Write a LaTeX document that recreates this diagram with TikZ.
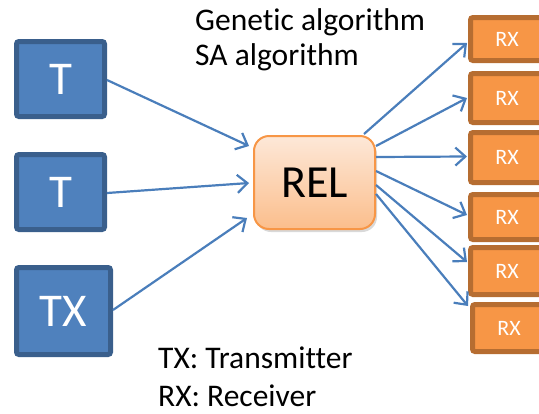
\documentclass[tikz,border=0pt]{standalone}
\usepackage{fontspec}
\setmainfont{Carlito}[Ligatures=NoCommon]
\usetikzlibrary{arrows.meta,calc,shadows}
\definecolor{tfill}{HTML}{4F81BD}
\definecolor{tborder}{HTML}{3A5F8C}
\definecolor{rxfill}{HTML}{F79646}
\definecolor{rxborder}{HTML}{B66D31}
\definecolor{relborder}{HTML}{F79646}
\definecolor{reltop}{HTML}{FDE8D8}
\definecolor{relbot}{HTML}{FBBE8C}
\definecolor{arr}{HTML}{4A7EBB}
\tikzset{
  tbox/.style={draw=tborder, fill=tfill, line width=5pt, rounded corners=2.5pt, text=white,
    font=\fontsize{47}{47}\selectfont, inner sep=0pt},
  rxbox/.style={draw=rxborder, fill=rxfill, line width=5pt, rounded corners=2.5pt, text=white,
    font=\fontsize{22}{22}\selectfont, inner sep=0pt, minimum width=73pt},
  relbox/.style={draw=relborder, line width=2pt, rounded corners=15pt, top color=reltop, bottom color=relbot,
    font=\fontsize{46}{46}\selectfont, inner sep=0pt, minimum width=121pt, minimum height=93pt,
    drop shadow={shadow xshift=2pt, shadow yshift=-3pt, opacity=0.25, fill=black!60}},
  conn/.style={draw=arr, line width=2.2pt, -{Straight Barb[length=10pt,width=18pt,line width=2.2pt]}},
  lbl/.style={font=\fontsize{31.5}{31.5}\selectfont, anchor=base west, inner sep=0pt}
}
\begin{document}
\begin{tikzpicture}[x=1pt,y=-1pt]
\useasboundingbox[clip] (0,0) rectangle (539,413);
\node[tbox, minimum width=88pt, minimum height=75pt] (t1) at (60.5,79) {T};
\node[tbox, minimum width=88pt, minimum height=75pt] (t2) at (60.5,192) {T};
\node[tbox, minimum width=94pt, minimum height=87pt] (tx) at (63.5,311) {TX};
\node[relbox] (rel) at (314.5,182.5) {REL};
\node[rxbox, minimum height=43pt] (rx1) at (507,39) {RX};
\node[rxbox, minimum height=49pt] (rx2) at (507,98) {RX};
\node[rxbox, minimum height=50pt] (rx3) at (507,157.5) {RX};
\node[rxbox, minimum height=45pt] (rx4) at (507,217) {RX};
\node[rxbox, minimum height=47pt] (rx5) at (507,271) {RX};
\node[rxbox, minimum height=47pt] (rx6) at (509,328) {RX};
\node[lbl] (g1) at (195,30) {Genetic algorithm};
\node[lbl] (g2) at (195,65) {SA algorithm};
\node[lbl] (k1) at (158,368) {TX: Transmitter};
\node[lbl] (k2) at (158,406) {RX: Receiver};
\draw[conn] ($(t1.east)+(0,1)$) -- ($(rel.north west)+(-4,11)$);
\draw[conn] ($(t2.east)+(0,1)$) -- ($(rel.north west)+(-4,48)$);
\draw[conn] ($(tx.east)+(0,-1)$) -- ($(rel.north west)+(-6,83)$);
\draw[conn] ($(rel.north east)+(-12,-1)$) -- ($(rx1.west)+(-1,4)$);
\draw[conn] ($(rel.north east)+(0,11)$) -- ($(rx2.west)+(-1,0)$);
\draw[conn] ($(rel.north east)+(0,22)$) -- ($(rx3.west)+(-1,-1)$);
\draw[conn] ($(rel.north east)+(0,36)$) -- ($(rx4.west)+(-1,-2)$);
\draw[conn] ($(rel.north east)+(0,50)$) -- ($(rx5.west)+(-1,-9)$);
\draw[conn] ($(rel.north east)+(0,59)$) -- ($(rx6.north west)+(-2,4)$);
\end{tikzpicture}
\end{document}
